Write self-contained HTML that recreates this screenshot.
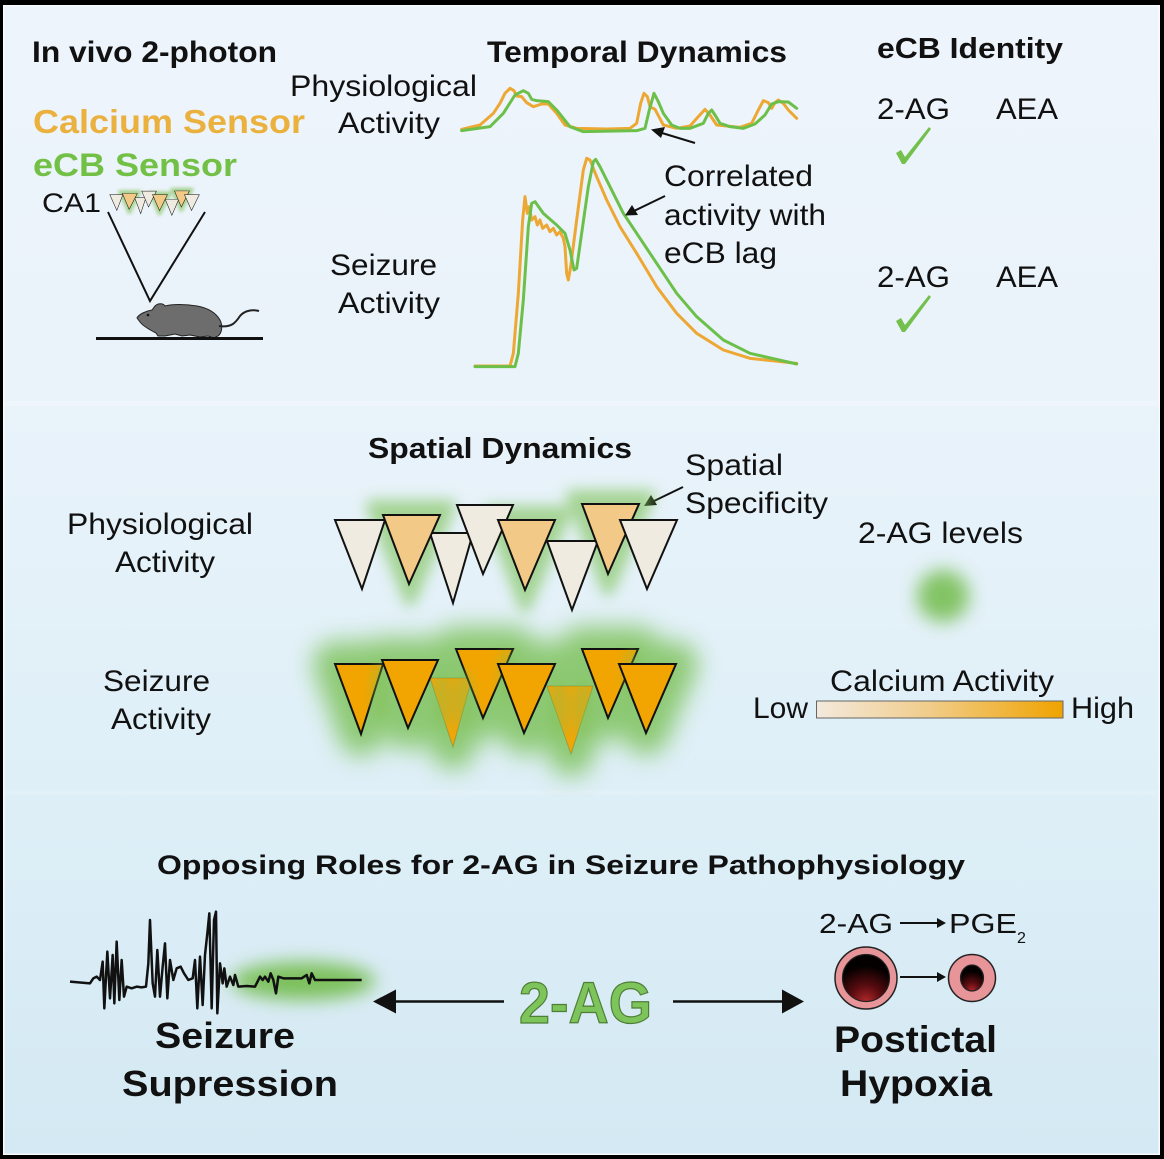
<!DOCTYPE html>
<html><head><meta charset="utf-8"><style>
html,body{margin:0;padding:0;background:#000;}
svg{display:block}
text{font-family:"Liberation Sans",Arial,sans-serif;fill:#111}
.b{font-weight:bold}
</style></head><body>
<svg width="1164" height="1159" viewBox="0 0 1164 1159" xmlns="http://www.w3.org/2000/svg" xmlns:xlink="http://www.w3.org/1999/xlink">
<defs>
<linearGradient id="bg" x1="0" y1="0" x2="0" y2="1">
 <stop offset="0" stop-color="#eef4fc"/>
 <stop offset="0.33" stop-color="#eaf3fa"/>
 <stop offset="0.62" stop-color="#e0f0f8"/>
 <stop offset="1" stop-color="#d4e9f3"/>
</linearGradient>
<linearGradient id="cabar" x1="0" y1="0" x2="1" y2="0">
 <stop offset="0" stop-color="#f3e9dc"/>
 <stop offset="0.45" stop-color="#f1cd8c"/>
 <stop offset="1" stop-color="#f0a300"/>
</linearGradient>
<radialGradient id="lumen" cx="0.5" cy="1.0" r="0.75">
 <stop offset="0" stop-color="#b0282c"/>
 <stop offset="0.45" stop-color="#5a0c10"/>
 <stop offset="1" stop-color="#050000"/>
</radialGradient>
<filter id="b7" x="-60%" y="-60%" width="220%" height="220%"><feGaussianBlur stdDeviation="7"/></filter>
<filter id="b12" x="-30%" y="-60%" width="160%" height="220%"><feGaussianBlur stdDeviation="12"/></filter>
<filter id="b5" x="-80%" y="-80%" width="260%" height="260%"><feGaussianBlur stdDeviation="5"/></filter>
<filter id="b9" x="-80%" y="-80%" width="260%" height="260%"><feGaussianBlur stdDeviation="9"/></filter>

<g id="toprow">
 <g filter="url(#b7)" fill="#78c050" stroke="#78c050" stroke-width="12" stroke-linejoin="round" opacity="0.6">
  <polygon points="372,506 450,506 410,600"/>
  <polygon points="489,512 566,512 525,606"/>
  <polygon points="572,496 649,496 608,590"/>
 </g>
 <g stroke="#111" stroke-width="2" stroke-linejoin="miter">
  <polygon points="335,520 385,520 362,589" fill="#efebe0"/>
  <polygon points="430,533 473,533 453,603" fill="#efebe0"/>
  <polygon points="547,541 598,541 572,610" fill="#efebe0"/>
  <polygon points="383,515 440,515 409,584" fill="#f2c987"/>
  <polygon points="457,505 513,505 483,574" fill="#efebe0"/>
  <polygon points="498,520 555,520 525,590" fill="#f2c987"/>
  <polygon points="582,504 639,504 608,574" fill="#f2c987"/>
  <polygon points="620,520 677,520 647,589" fill="#efebe0"/>
 </g>
</g>
</defs>

<rect width="1164" height="1159" fill="#000"/>
<rect x="3" y="5" width="1157" height="1150" fill="#f8fbfd"/>
<rect x="4.5" y="6.5" width="1154" height="1147" fill="url(#bg)"/>
<rect x="5" y="401" width="1153" height="5" fill="#f4f8fc" opacity="0.5"/>
<rect x="5" y="790" width="1153" height="5" fill="#e6f2f8" opacity="0.5"/>

<!-- ===== Top-left ===== -->
<text class="b" x="32" y="62" font-size="30" textLength="245" lengthAdjust="spacingAndGlyphs">In vivo 2-photon</text>
<text class="b" x="33" y="133" font-size="33" textLength="272" lengthAdjust="spacingAndGlyphs" style="fill:#eab13f">Calcium Sensor</text>
<text class="b" x="33" y="176" font-size="32" textLength="204" lengthAdjust="spacingAndGlyphs" style="fill:#72c045">eCB Sensor</text>
<text x="42" y="212" font-size="27" textLength="59" lengthAdjust="spacingAndGlyphs">CA1</text>
<use xlink:href="#toprow" href="#toprow" transform="translate(22,75) scale(0.262,0.23)"/>
<polyline points="108,212 150,301 205,212" fill="none" stroke="#111" stroke-width="2"/>
<!-- mouse -->
<path d="M137,318 C139,314 146,311 152,310 L155,306 C158,303 163,303 165,306 C172,304 185,304 197,306 C208,308 216,313 220,320 C223,326 222,333 218,336 L214,338 L208,336 L200,337 L190,335 L182,336 L175,334 L165,336 L158,336 L156,333 C150,330 143,326 140,322 Z" fill="#6d6d6d" stroke="#222" stroke-width="1"/>
<path d="M219,326 C232,328 236,322 240,316 C244,311 252,309 259,311" fill="none" stroke="#222" stroke-width="2"/>
<circle cx="148" cy="315" r="1.3" fill="#111"/>
<line x1="96" y1="338.5" x2="263" y2="338.5" stroke="#111" stroke-width="3"/>

<!-- ===== Temporal Dynamics ===== -->
<text class="b" x="487" y="62" font-size="30" textLength="300" lengthAdjust="spacingAndGlyphs">Temporal Dynamics</text>
<text x="290" y="96" font-size="30" textLength="187" lengthAdjust="spacingAndGlyphs">Physiological</text>
<text x="338" y="133" font-size="30" textLength="102" lengthAdjust="spacingAndGlyphs">Activity</text>
<text x="330" y="275" font-size="30" textLength="107" lengthAdjust="spacingAndGlyphs">Seizure</text>
<text x="338" y="313" font-size="30" textLength="102" lengthAdjust="spacingAndGlyphs">Activity</text>

<g transform="translate(450,60) scale(0.33333)" fill="none" stroke-width="9" stroke-linejoin="round" stroke-linecap="round">
 <polyline stroke="#eda834" points="35,208 90,195 130,160 150,130 165,100 180,85 192,92 200,108 215,110 230,128 250,140 275,132 295,132 320,160 345,195 380,205 470,207 540,205 560,190 572,130 582,100 592,110 600,140 615,148 640,195 680,205 720,198 745,170 765,148 780,165 800,195 870,202 905,190 925,150 940,122 955,128 965,145 975,128 985,120 1000,130 1015,150 1040,175"/>
 <polyline stroke="#6cc04a" points="35,212 120,200 160,160 195,105 220,92 235,100 245,118 260,122 295,125 320,150 360,200 400,215 560,212 585,205 598,150 612,100 625,125 640,160 665,195 690,205 720,205 760,190 775,160 785,150 795,165 810,190 840,200 880,205 915,192 945,165 965,132 985,125 1015,126 1040,145"/>
 <polyline stroke="#eda834" points="75,918 180,918 190,880 205,700 218,480 225,410 232,460 238,440 245,480 255,470 262,495 270,480 278,505 290,495 300,515 310,505 320,525 330,515 340,535 345,560 350,640 355,660 362,620 380,480 400,330 410,295 420,300 440,350 470,420 510,500 560,580 620,680 680,760 740,820 820,870 900,895 1040,910"/>
 <polyline stroke="#6cc04a" points="75,920 195,920 205,880 220,720 235,500 245,430 255,425 280,460 320,495 345,520 360,570 372,630 380,625 395,520 415,380 430,305 437,298 450,320 480,380 520,460 560,520 620,610 680,700 740,770 820,840 900,880 1040,912"/>
</g>
<line x1="695" y1="143" x2="662" y2="133" stroke="#111" stroke-width="2"/>
<polygon points="651,129.5 665,127 661,138" fill="#111"/>
<line x1="665" y1="196" x2="634" y2="211" stroke="#111" stroke-width="2"/>
<polygon points="625,215.5 632,205 638,215" fill="#111"/>
<text x="664" y="186" font-size="30" textLength="149" lengthAdjust="spacingAndGlyphs">Correlated</text>
<text x="664" y="225" font-size="30" textLength="162" lengthAdjust="spacingAndGlyphs">activity with</text>
<text x="664" y="263" font-size="30" textLength="113" lengthAdjust="spacingAndGlyphs">eCB lag</text>

<!-- ===== eCB Identity ===== -->
<text class="b" x="877" y="58" font-size="29" textLength="186" lengthAdjust="spacingAndGlyphs">eCB Identity</text>
<text x="877" y="119" font-size="30" textLength="73" lengthAdjust="spacingAndGlyphs">2-AG</text>
<text x="996" y="119" font-size="30" textLength="62" lengthAdjust="spacingAndGlyphs">AEA</text>
<path d="M896,153 L901,150 L905,157 L929,127 L931,129 L905,164 L902,164 Z" fill="#74c04c"/>
<text x="877" y="287" font-size="30" textLength="73" lengthAdjust="spacingAndGlyphs">2-AG</text>
<text x="996" y="287" font-size="30" textLength="62" lengthAdjust="spacingAndGlyphs">AEA</text>
<path d="M896,321 L901,318 L905,325 L929,295 L931,297 L905,332 L902,332 Z" fill="#74c04c"/>

<!-- ===== Spatial Dynamics ===== -->
<text class="b" x="368" y="458" font-size="29" textLength="264" lengthAdjust="spacingAndGlyphs">Spatial Dynamics</text>
<text x="685" y="475" font-size="30" textLength="98" lengthAdjust="spacingAndGlyphs">Spatial</text>
<text x="685" y="513" font-size="30" textLength="143" lengthAdjust="spacingAndGlyphs">Specificity</text>
<line x1="683" y1="487" x2="654" y2="501" stroke="#111" stroke-width="2"/>
<polygon points="644,506 651,495 657,505" fill="#111"/>
<text x="67" y="534" font-size="30" textLength="186" lengthAdjust="spacingAndGlyphs">Physiological</text>
<text x="115" y="572" font-size="30" textLength="100" lengthAdjust="spacingAndGlyphs">Activity</text>
<text x="103" y="691" font-size="30" textLength="107" lengthAdjust="spacingAndGlyphs">Seizure</text>
<text x="111" y="729" font-size="30" textLength="100" lengthAdjust="spacingAndGlyphs">Activity</text>

<use xlink:href="#toprow" href="#toprow"/>

<!-- bottom row -->
<g filter="url(#b12)" fill="#78c052" stroke="#78c052" stroke-width="44" stroke-linejoin="round" opacity="0.8">
 <polygon points="335,664 383,664 361,734"/>
 <polygon points="382,660 438,660 408,728"/>
 <polygon points="430,678 472,678 453,747"/>
 <polygon points="456,649 513,649 483,718"/>
 <polygon points="498,664 555,664 524,733"/>
 <polygon points="547,686 593,686 571,754"/>
 <polygon points="582,649 638,649 608,718"/>
 <polygon points="619,664 676,664 646,733"/>
</g>
<g stroke-linejoin="miter">
 <polygon points="430,678 472,678 453,747" fill="#f0a608" stroke="#556b2f" stroke-width="1" stroke-opacity="0.35"/>
 <polygon points="547,686 593,686 571,754" fill="#f0a608" stroke="#556b2f" stroke-width="1" stroke-opacity="0.35"/>
 <polygon points="335,664 383,664 361,734" fill="#f2a500" stroke="#111" stroke-width="2"/>
 <polygon points="456,649 513,649 483,718" fill="#f2a500" stroke="#111" stroke-width="2"/>
 <polygon points="582,649 638,649 608,718" fill="#f2a500" stroke="#111" stroke-width="2"/>
</g>
<g filter="url(#b5)" fill="#86c050" opacity="0.38">
 <ellipse cx="442" cy="700" rx="10" ry="30"/>
 <ellipse cx="464" cy="700" rx="10" ry="30"/>
 <ellipse cx="559" cy="708" rx="10" ry="30"/>
 <ellipse cx="583" cy="708" rx="10" ry="30"/>
 <ellipse cx="380" cy="690" rx="9" ry="30"/>
 <ellipse cx="507" cy="676" rx="9" ry="28"/>
 <ellipse cx="632" cy="676" rx="9" ry="28"/>
</g>
<g stroke="#111" stroke-width="2" stroke-linejoin="miter" fill="#f2a500">
 <polygon points="382,660 438,660 408,728"/>
 <polygon points="498,664 555,664 524,733"/>
 <polygon points="619,664 676,664 646,733"/>
</g>

<!-- legend -->
<text x="858" y="543" font-size="30" textLength="165" lengthAdjust="spacingAndGlyphs">2-AG levels</text>
<circle cx="943" cy="596" r="26" fill="#72bc4c" filter="url(#b9)" opacity="0.85"/>
<text x="830" y="691" font-size="30" textLength="224" lengthAdjust="spacingAndGlyphs">Calcium Activity</text>
<text x="753" y="718" font-size="30" textLength="55" lengthAdjust="spacingAndGlyphs">Low</text>
<rect x="816.5" y="701" width="246.5" height="17" fill="url(#cabar)" stroke="#666" stroke-width="1"/>
<text x="1071" y="718" font-size="30" textLength="63" lengthAdjust="spacingAndGlyphs">High</text>

<!-- ===== Bottom ===== -->
<text class="b" x="157" y="874" font-size="27" textLength="808" lengthAdjust="spacingAndGlyphs">Opposing Roles for 2-AG in Seizure Pathophysiology</text>

<ellipse cx="303" cy="981" rx="72" ry="19" fill="#72bc4c" filter="url(#b9)" opacity="0.9"/>
<g transform="translate(60,880) scale(0.33333)">
 <polyline fill="none" stroke="#111" stroke-width="7.5" stroke-linejoin="round" points="30,305 90,310 100,295 110,290 120,300 128,245 133,385 142,215 150,355 158,225 163,370 170,185 178,360 185,240 192,350 200,320 215,325 230,320 245,322 258,320 265,250 270,120 278,310 285,350 292,210 300,350 308,260 315,190 322,355 330,240 340,300 350,265 362,260 372,280 385,300 398,295 405,240 412,385 420,230 428,375 435,225 442,160 448,100 455,385 462,120 468,95 472,400 480,250 488,310 493,265 500,320 510,290 520,315 525,285 535,320 560,318 585,320 600,290 608,300 615,290 625,305 632,280 640,300 648,340 655,290 670,295 700,295 725,295 740,285 748,310 755,280 765,300 780,300 905,300"/>
</g>
<text class="b" x="155" y="1048" font-size="36" textLength="140" lengthAdjust="spacingAndGlyphs">Seizure</text>
<text class="b" x="122" y="1096" font-size="36" textLength="216" lengthAdjust="spacingAndGlyphs">Supression</text>

<line x1="393" y1="1001.5" x2="504" y2="1001.5" stroke="#111" stroke-width="2.5"/>
<polygon points="373,1001.5 396,989.5 396,1013.5" fill="#111"/>
<line x1="673" y1="1001.5" x2="784" y2="1001.5" stroke="#111" stroke-width="2.5"/>
<polygon points="804,1001.5 782,989.5 782,1013.5" fill="#111"/>
<text class="b" x="519" y="1023" font-size="58" textLength="133" lengthAdjust="spacingAndGlyphs" style="fill:#7dc45b;stroke:#4e7d36;stroke-width:1.2">2-AG</text>

<text x="819" y="933" font-size="28" textLength="74" lengthAdjust="spacingAndGlyphs">2-AG</text>
<line x1="900" y1="923" x2="938" y2="923" stroke="#111" stroke-width="2"/>
<polygon points="946,923 937,918 937,928" fill="#111"/>
<text x="949" y="933" font-size="28" textLength="68" lengthAdjust="spacingAndGlyphs">PGE</text>
<text x="1017" y="943" font-size="16">2</text>

<circle cx="866" cy="978" r="31" fill="#e8959a" stroke="#222" stroke-width="1.5"/>
<circle cx="866" cy="978" r="23.5" fill="url(#lumen)" stroke="#222" stroke-width="1.2"/>
<line x1="900" y1="977" x2="938" y2="977" stroke="#111" stroke-width="2"/>
<polygon points="946,977 937,972 937,982" fill="#111"/>
<circle cx="972" cy="978" r="23.5" fill="#e8959a" stroke="#222" stroke-width="1.5"/>
<ellipse cx="972" cy="978" rx="11.5" ry="13" fill="url(#lumen)" stroke="#222" stroke-width="1.2"/>

<text class="b" x="834" y="1052" font-size="37" textLength="163" lengthAdjust="spacingAndGlyphs">Postictal</text>
<text class="b" x="840" y="1096" font-size="37" textLength="152" lengthAdjust="spacingAndGlyphs">Hypoxia</text>
</svg>
</body></html>
